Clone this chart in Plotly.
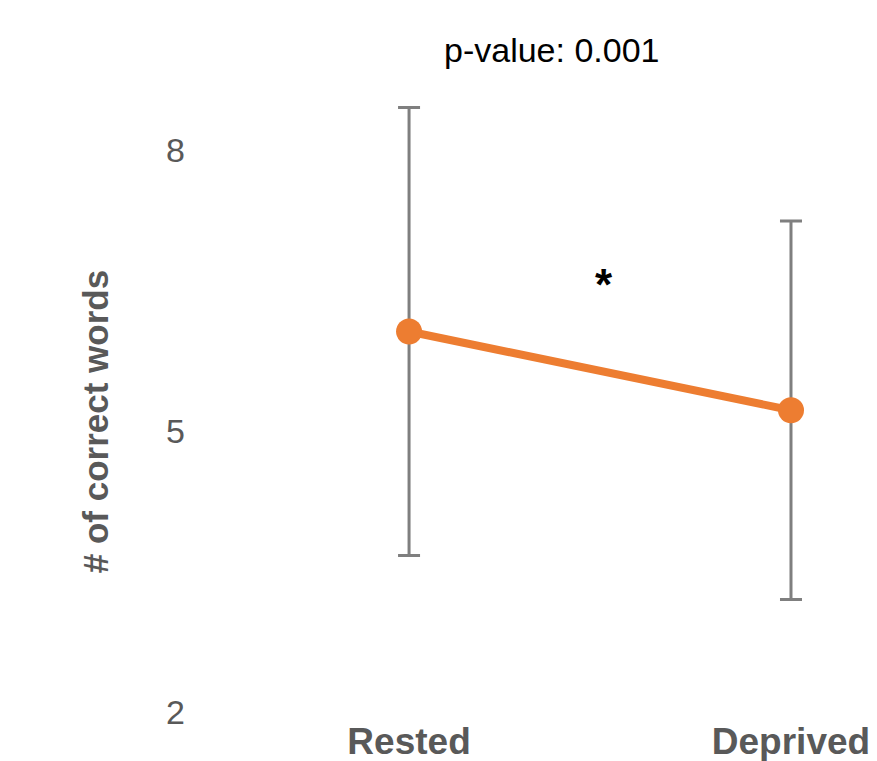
import plotly.graph_objects as go

conditions = ["Rested", "Deprived"]
means = [6.06, 5.22]
errors = [2.39, 2.02]
y_ticks = [2, 5, 8]
p_text = "p-value: 0.001"
sig_mark = "*"
y_title = "# of correct words"

xpos = list(range(len(conditions)))
FONT = "Liberation Sans, Arial"

fig = go.Figure()
fig.add_trace(go.Scatter(
    x=xpos, y=means, mode="lines+markers",
    line=dict(color="#ED7D31", width=8),
    marker=dict(color="#ED7D31", size=26),
    error_y=dict(type="data", array=errors, visible=True,
                 color="#7F7F7F", thickness=3, width=11),
    showlegend=False,
))

fig.add_annotation(x=0.5374, y=1.0088, xref="paper", yref="paper", text=p_text,
                   showarrow=False, yanchor="middle", xanchor="center",
                   font=dict(family=FONT, size=34, color="#000000"))
fig.add_annotation(x=0.51, y=6.56, xref="x", yref="y", text=sig_mark,
                   showarrow=False,
                   font=dict(family=FONT, size=44, color="#000000", weight="bold"))
fig.add_annotation(x=-0.1336, y=0.4417, xref="paper", yref="paper", text=y_title,
                   showarrow=False, textangle=-90, xanchor="center", yanchor="middle",
                   font=dict(family=FONT, size=35, color="#595959", weight="bold"))

fig.update_layout(
    width=877, height=761,
    margin=dict(l=186, r=10, t=56, b=49, autoexpand=False),
    paper_bgcolor="white", plot_bgcolor="white",
    font=dict(family=FONT, color="#595959"),
    xaxis=dict(range=[-0.584, 1.199], tickvals=xpos, ticktext=conditions,
               showgrid=False, zeroline=False, showline=False, automargin=False,
               tickfont=dict(size=37, family=FONT, color="#595959", weight="bold"),
               ticks="", ticklabelstandoff=4),
    yaxis=dict(range=[2, 9], tickvals=y_ticks, showgrid=False, zeroline=False,
               showline=False, ticks="", automargin=False,
               tickfont=dict(size=34, family=FONT, color="#595959")),
)

fig.write_html("out.html")
